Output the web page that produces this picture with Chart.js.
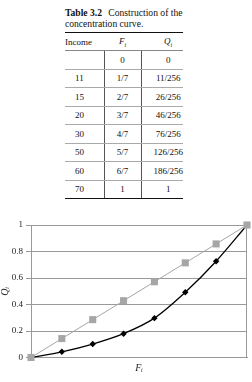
<!DOCTYPE html>
<html>
<head>
<meta charset="utf-8">
<script src="https://cdn.jsdelivr.net/npm/chart.js@4"></script>
<style>
  html, body { margin: 0; padding: 0; background: #fff; }
  body { width: 252px; height: 382px; position: relative; overflow: hidden; font-family: "Liberation Serif", serif; color: #111; }
  #caption { position: absolute; left: 65px; top: 7px; width: 122px; font-size: 9.6px; line-height: 11px; }
  #caption b { margin-right: 4px; }
  #tbl { position: absolute; left: 65px; top: 32px; width: 118px; border-collapse: collapse; table-layout: fixed; font-size: 9px; }
  #tbl th, #tbl td { padding: 0; font-weight: normal; height: 17.5px; }
  #tbl thead tr { border-top: 1.5px solid #111; }
  #tbl thead th { height: 17px; border-bottom: 1px solid #888; }
  #tbl tbody td { border-bottom: 1px solid #aaa; text-align: center; }
  #tbl tbody tr:last-child td { border-bottom: 1.5px solid #111; }
  #tbl tbody td.inc { text-align: left; padding-left: 10px; }
  #tbl tbody td.mid { border-left: 1px solid #555; border-right: 1px solid #555; }
  #tbl tbody td.q { padding-left: 12px; }
  #tbl th.q { padding-left: 12px; }
  #chartBox { position: absolute; left: 0; top: 200px; width: 252px; height: 182px; }
</style>
</head>
<body>
<div id="caption"><b>Table 3.2</b> Construction of the concentration curve.</div>
<table id="tbl">
  <colgroup><col style="width:39px"><col style="width:37px"><col style="width:42px"></colgroup>
  <thead><tr><th style="text-align:left">Income</th><th><i>F<sub style="font-size:6px">i</sub></i></th><th class="q"><i>Q<sub style="font-size:6px">i</sub></i></th></tr></thead>
  <tbody id="rows"></tbody>
</table>
<div id="chartBox"><canvas id="chart"></canvas></div>
<script>
// table values
const incomes = ['', '11', '15', '20', '30', '50', '60', '70'];
const fLabels = ['0', '1/7', '2/7', '3/7', '4/7', '5/7', '6/7', '1'];
const qLabels = ['0', '11/256', '26/256', '46/256', '76/256', '126/256', '186/256', '1'];

// curve values
const fValues = [0, 1/7, 2/7, 3/7, 4/7, 5/7, 6/7, 1];
const equalityValues = [0, 1/7, 2/7, 3/7, 4/7, 5/7, 6/7, 1];
const qValues = [0, 11/256, 26/256, 46/256, 76/256, 126/256, 186/256, 1];

const rows = document.getElementById('rows');
incomes.forEach((inc, i) => {
  const tr = document.createElement('tr');
  tr.innerHTML = `<td class="inc">${inc}</td><td class="mid">${fLabels[i]}</td><td class="q">${qLabels[i]}</td>`;
  rows.appendChild(tr);
});

const GRID = '#999999';
const serif = { family: '"Liberation Serif", serif', size: 9 };

// right edge of the plot area
const frame = {
  id: 'frame',
  beforeDatasetsDraw(chart) {
    const { ctx, chartArea: a } = chart;
    ctx.save();
    ctx.strokeStyle = GRID;
    ctx.lineWidth = 1;
    ctx.beginPath();
    ctx.moveTo(Math.round(a.right) - 0.5, a.top);
    ctx.lineTo(Math.round(a.right) - 0.5, a.bottom);
    ctx.stroke();
    ctx.restore();
  }
};

new Chart(document.getElementById('chart'), {
  type: 'line',
  data: {
    datasets: [
      {
        label: 'Equality',
        data: fValues.map((f, i) => ({ x: f, y: equalityValues[i] })),
        borderColor: '#a6a6a6',
        backgroundColor: '#a6a6a6',
        borderWidth: 1,
        pointStyle: 'rect',
        pointRadius: 5,
        pointBorderWidth: 0,
        tension: 0,
        clip: false,
      },
      {
        label: 'Concentration',
        data: fValues.map((f, i) => ({ x: f, y: qValues[i] })),
        borderColor: '#000000',
        backgroundColor: '#000000',
        borderWidth: 1.3,
        pointStyle: 'rectRot',
        pointRadius: 3.2,
        pointBorderWidth: 0,
        tension: 0.3,
        clip: false,
      },
    ],
  },
  options: {
    responsive: true,
    maintainAspectRatio: false,
    animation: false,
    events: [],
    layout: { padding: { top: 25, right: 2, bottom: 0, left: 0 } },
    plugins: { legend: { display: false }, tooltip: { enabled: false } },
    scales: {
      x: {
        type: 'linear',
        min: 0,
        max: 1,
        grid: { display: false },
        border: { color: GRID },
        ticks: { display: false },
        title: { display: true, text: 'Fᵢ', color: '#222', padding: { top: 0, bottom: 8 }, font: { ...serif, size: 10, style: 'italic', lineHeight: 1.2 } },
        afterFit: (s) => { s.height = 24.5; },
      },
      y: {
        min: 0,
        max: 1,
        grid: { color: GRID, tickLength: 5, drawTicks: true },
        border: { color: GRID },
        ticks: {
          stepSize: 0.2,
          padding: 3,
          color: '#222',
          font: serif,
          callback: (v) => String(Number(v.toFixed(1))),
        },
        title: { display: true, text: 'Qᵢ', color: '#222', padding: { top: 0, bottom: 0 }, font: { ...serif, size: 10, style: 'italic', lineHeight: 1 } },
        afterFit: (s) => { s.width = 31; },
      },
    },
  },
  plugins: [frame],
});
</script>
</body>
</html>
